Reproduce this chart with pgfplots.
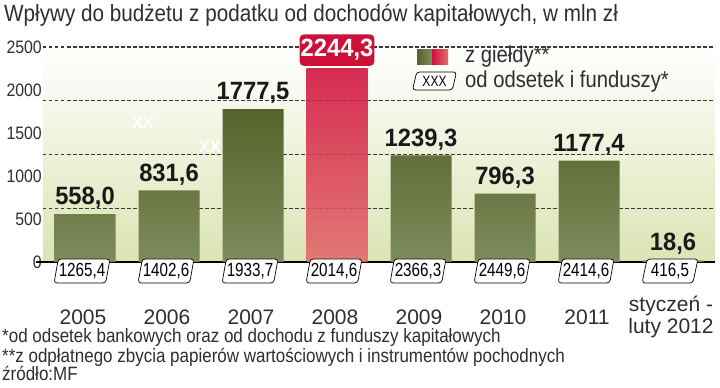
\documentclass[border=0pt]{standalone}
\usepackage{fontspec}
\setmainfont{Liberation Sans}
\newfontfamily\lc[FakeStretch=0.88]{Liberation Sans}
\newfontfamily\nc[FakeStretch=0.8]{Liberation Sans}
\newfontfamily\bc[FakeStretch=0.95]{Liberation Sans}
\usepackage{pgfplots}
\pgfplotsset{compat=1.18}
\usetikzlibrary{shapes.geometric}
\definecolor{gtop}{HTML}{55632B}
\definecolor{gbot}{HTML}{7E8B5C}
\definecolor{rtop}{HTML}{D2103C}
\definecolor{rbot}{HTML}{E36B6B}
\definecolor{bgbot}{HTML}{DCE3B3}
\definecolor{redlab}{HTML}{CC1037}
\definecolor{gridc}{HTML}{3A3A3A}
\definecolor{txt}{HTML}{2E2E2E}
\tikzset{valbox/.style={shape=trapezium, trapezium left angle=75, trapezium right angle=105, trapezium stretches=true, draw=black, line width=0.7pt, fill=white, rounded corners=3pt, inner xsep=0pt, inner ysep=0pt}}
\begin{document}
\begin{tikzpicture}[x=1pt,y=1pt]
\useasboundingbox (0,0) rectangle (720,388);
\begin{axis}[
  at={(43pt,126pt)}, anchor=south west,
  scale only axis, width=672pt, height=215pt,
  xmin=-0.5, xmax=7.5, ymin=0, ymax=2500,
  clip=false,
  axis x line*=bottom, axis y line*=left,
  x axis line style={line width=2.5pt, -, black},
  y axis line style={draw=none},
  axis background/.style={shade, top color=white, bottom color=bgbot},
  xtick={0,...,7},
  xticklabels={2005,2006,2007,2008,2009,2010,2011,{styczeń -\\luty 2012}},
  xticklabel style={font=\fontsize{21}{22}\selectfont, align=center, anchor=center, yshift=-55pt, xshift=-2pt, inner sep=0pt, text=txt},
  ytick={0,500,...,2500},
  yticklabel style={font=\lc\fontsize{18}{18}\selectfont, inner xsep=1pt, text=txt},
  /pgf/number format/assume math mode=true,
  /pgf/number format/1000 sep={},
  major tick length=0pt,
  extra y ticks={625,1250,1875,2500},
  extra y tick labels={},
  extra y tick style={ymajorgrids=true, major grid style={gridc, line width=1.2pt, dash pattern=on 3.5pt off 2.5pt}},
]
\addplot[ybar, bar width=61pt, bar shift=0pt, draw=none, top color=gtop, bottom color=gbot,
  nodes near coords, point meta=explicit symbolic,
  every node near coord/.append style={font=\bc\bfseries\fontsize{25}{25}\selectfont, text=black!90, yshift=2pt}]
  table[meta=lab]{
x y lab
0 558.0 558,0
1 831.6 831,6
2 1777.5 1777,5
4 1239.3 1239,3
5 796.3 796,3
6 1177.4 1177,4
7 18.6 18,6
};
\addplot[ybar, bar width=61pt, bar shift=0pt, draw=none, top color=rtop, bottom color=rbot, fill opacity=0.88,
  nodes near coords, point meta=explicit symbolic,
  every node near coord/.append style={font=\bc\bfseries\fontsize{25}{25}\selectfont, fill=redlab, text=white, fill opacity=1, text opacity=1, rounded corners=4pt, inner xsep=1pt, inner ysep=5pt, yshift=3pt}]
  table[meta=lab]{
x y lab
3 2244.3 2244,3
};
\addplot[draw=none, mark=none,
  nodes near coords, point meta=explicit symbolic,
  every node near coord/.append style={anchor=center, yshift=-9pt, xshift=-3pt, valbox, minimum height=24pt, minimum width=56pt, font=\nc\fontsize{19}{19}\selectfont, text=black}]
  table[meta=lab]{
x y lab
0 0 1265,4
1 0 1402,6
2 0 1933,7
3 0 2014,6
4 0 2366,3
5 0 2449,6
6 0 2414,6
7 0 416,5
};
\end{axis}
% zero tick dash
\draw[line width=1.2pt] (36,126) -- (43,126);
% title
\node[anchor=base west, inner sep=0pt, font=\lc\fontsize{23.5}{24}\selectfont, text=txt] at (4,366) {Wpływy do budżetu z podatku od dochodów kapitałowych, w mln zł};
% faint white marks
\node[text=white, font=\bc\bfseries\fontsize{17}{17}\selectfont] at (143,265) {XX};
\node[text=white, font=\bc\bfseries\fontsize{17}{17}\selectfont] at (210,241) {XX};
% legend
\shade[left color=gtop, right color=gbot] (417,323) rectangle (432,338);
\shade[left color=rtop, right color=rbot] (432,323) rectangle (448,338);
\node[anchor=west, inner sep=0pt, font=\lc\fontsize{23}{23}\selectfont, text=txt] at (465,331) {z giełdy**};
\node[valbox, minimum height=18pt, minimum width=44pt, font=\nc\fontsize{15}{15}\selectfont] at (434.5,307) {XXX};
\node[anchor=west, inner sep=0pt, font=\lc\fontsize{23}{23}\selectfont, text=txt] at (465,306) {od odsetek i funduszy*};
% footnotes
\node[anchor=base west, inner sep=0pt, font=\lc\fontsize{19.3}{19}\selectfont, text=txt] at (2,45) {*od odsetek bankowych oraz od dochodu z funduszy kapitałowych};
\node[anchor=base west, inner sep=0pt, font=\lc\fontsize{19.3}{19}\selectfont, text=txt] at (2,25) {**z odpłatnego zbycia papierów wartościowych i instrumentów pochodnych};
\node[anchor=base west, inner sep=0pt, font=\lc\fontsize{19.3}{19}\selectfont, text=txt] at (2,7) {źródło:MF};
\end{tikzpicture}
\end{document}
